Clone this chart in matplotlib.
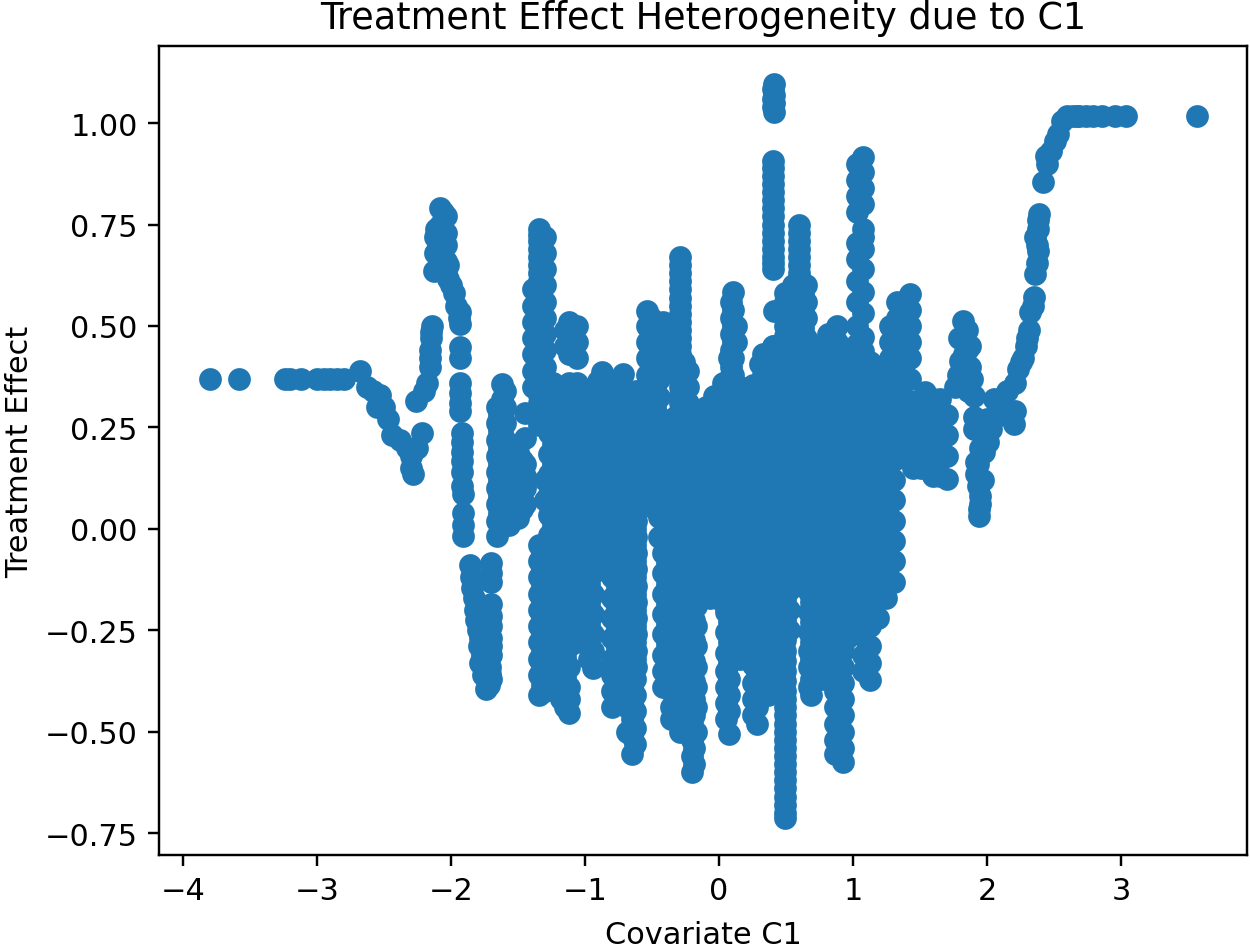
import matplotlib
matplotlib.use("Agg")
import matplotlib.pyplot as plt

# tails and thin curves, read as single points
left_x = [-3.8, -3.58, -3.24, -3.2, -3.12, -3.0, -2.95, -2.9, -2.85, -2.8, -2.68,
          -2.63, -2.58, -2.53, -2.55, -2.5, -2.47, -2.44, -2.38, -2.33, -2.3, -2.3, -2.28, -2.22, -2.25,
          -2.26, -2.2, -2.18, -2.16, -2.16, -2.15, -2.14, -2.15, -2.16]
left_y = [0.37, 0.37, 0.37, 0.37, 0.37, 0.37, 0.37, 0.37, 0.37, 0.37, 0.39,
          0.35, 0.34, 0.33, 0.30, 0.30, 0.27, 0.23, 0.22, 0.20, 0.18, 0.15, 0.135, 0.235, 0.20,
          0.315, 0.34, 0.36, 0.40, 0.44, 0.47, 0.50, 0.485, 0.42]

peak_x = [-2.13, -2.12, -2.12, -2.11, -2.08, -2.08, -2.08, -2.08, -2.08, -2.04, -2.04, -2.04, -2.04, -2.04,
          -2.02, -2.0, -1.98, -1.96, -1.94,
          -1.93, -1.93, -1.93, -1.93, -1.93, -1.93, -1.92, -1.92, -1.92, -1.92, -1.92, -1.91, -1.91, -1.91,
          -2.1, -2.06, -2.06, -2.02, -1.93, -1.93, -1.92, -1.91]
peak_y = [0.635, 0.68, 0.72, 0.74, 0.79, 0.75, 0.72, 0.68, 0.65, 0.77, 0.73, 0.70, 0.66, 0.63,
          0.615, 0.60, 0.58, 0.55, 0.52,
          0.506, 0.448, 0.42, 0.36, 0.335, 0.29, 0.237, 0.215, 0.167, 0.14, 0.106, 0.04, 0.01, -0.017,
          0.70, 0.78, 0.70, 0.65, 0.535, 0.31, 0.19, 0.085]

drop_x = [-1.86, -1.85, -1.83, -1.82, -1.8, -1.79, -1.78, -1.76, -1.74, -1.72, -1.7,
          -1.7, -1.7, -1.7, -1.7, -1.7, -1.7, -1.7, -1.71, -1.71, -1.71, -1.72,
          -1.84, -1.81, -1.785, -1.77, -1.75, -1.73, -1.73, -1.7, -1.7]
drop_y = [-0.09, -0.12, -0.17, -0.2, -0.25, -0.29, -0.33, -0.36, -0.395, -0.385, -0.37,
          -0.085, -0.11, -0.13, -0.185, -0.24, -0.27, -0.31, -0.34, -0.357, -0.37, -0.19,
          -0.145, -0.225, -0.27, -0.31, -0.345, -0.30, -0.34, -0.215, -0.29]

right_x = [1.82, 1.85, 1.79, 1.87, 1.8, 1.85, 1.76, 1.9, 1.9, 1.9, 1.96, 2.05, 2.0, 2.1, 2.15, 2.21, 2.21, 2.2, 2.1,
           2.01, 1.98, 1.92, 1.92, 1.95, 1.94, 1.97, 1.94,
           2.23, 2.27, 2.29, 2.31, 2.32, 2.35, 2.36, 2.38, 2.37, 2.38, 2.39,
           2.42, 2.45, 2.44, 2.48, 2.51, 2.53, 2.56, 2.64, 2.69, 2.74, 2.79, 2.86, 2.955, 3.04, 3.57,
           1.83, 1.84, 1.86, 1.78, 1.82, 1.85, 1.87, 1.89, 1.93, 1.93, 1.95, 2.03, 2.25, 2.3, 2.34, 2.37, 2.36, 2.38, 2.6, 2.67, 1.95]
right_y = [0.512, 0.49, 0.47, 0.45, 0.414, 0.39, 0.35, 0.328, 0.276, 0.246, 0.25, 0.32, 0.27, 0.30, 0.34, 0.36, 0.29, 0.258, 0.28,
           0.214, 0.19, 0.165, 0.135, 0.08, 0.032, 0.12, 0.05,
           0.394, 0.42, 0.45, 0.49, 0.534, 0.571, 0.628, 0.685, 0.70, 0.74, 0.776,
           0.855, 0.90, 0.918, 0.93, 0.955, 0.973, 1.005, 1.017, 1.017, 1.017, 1.017, 1.017, 1.017, 1.017, 1.017,
           0.43, 0.36, 0.34, 0.38, 0.36, 0.44, 0.40, 0.37, 0.105, 0.16, 0.06, 0.245, 0.41, 0.47, 0.55, 0.655, 0.72, 0.76, 1.017, 1.017, 0.20]

# vertical streaks: one x per column, then the y values seen in it
col_x = [-1.66, -1.62, -1.57, -1.5, -1.45,
         -1.39, -1.34, -1.3, -1.24, -1.18, -1.12, -1.06, -1.0, -0.94, -0.87, -0.8, -0.72, -0.65, -0.62,
         -0.54, -0.48, -0.42, -0.36, -0.29, -0.26, -0.2, -0.17, -0.1, -0.04, 0.03, 0.075, 0.105, 0.16, 0.22, 0.28,
         0.33, 0.4, 0.41, 0.49, 0.55, 0.6, 0.65, 0.686, 0.77, 0.85, 0.88, 0.925, 0.98,
         1.075, 1.127, 1.19, 1.245, 1.306, 1.36, 1.425, 1.47, 1.54, 1.6, 1.65, 1.7]
col_y = [
    [0.30, 0.26, 0.22, 0.18, 0.14, 0.10, 0.06, 0.02, -0.017],
    [0.357, 0.32, 0.28, 0.24, 0.20, 0.16, 0.12, 0.08, 0.04, 0.005],
    [0.19, 0.15, 0.11, 0.07, 0.03, 0.01],
    [0.19, 0.15, 0.11, 0.07, 0.027],
    [0.285, 0.224, 0.16, 0.13, 0.10, 0.06],
    [0.59, 0.55, 0.51, 0.47, 0.43, 0.39, 0.35],
    [0.74, 0.71, 0.67, 0.63, 0.59, 0.55, 0.51, 0.47, 0.43, 0.39, 0.35, 0.31, 0.256,
     -0.04, -0.08, -0.12, -0.16, -0.20, -0.24, -0.28, -0.32, -0.36, -0.41],
    [0.72, 0.68, 0.64, 0.60, 0.56, 0.52, 0.48, 0.44, 0.40, 0.36, 0.32, 0.30, 0.12, 0.07,
     -0.05, -0.09, -0.13, -0.17, -0.21, -0.25, -0.29, -0.33, -0.37, -0.40],
    [0.36, 0.31, 0.26, 0.21, 0.16, 0.11, 0.06, 0.01, -0.04, -0.09, -0.14, -0.19, -0.24, -0.29, -0.34, -0.38],
    [0.33, 0.28, 0.23, 0.18, 0.13, 0.08, 0.03, -0.02, -0.07, -0.12, -0.17, -0.22, -0.27, -0.32, -0.37, -0.42],
    [0.51, 0.47, 0.43, 0.36, 0.31, 0.26, 0.21, 0.16, 0.11, 0.06, 0.01, -0.04, -0.09, -0.14, -0.19, -0.24, -0.29, -0.34, -0.39, -0.42, -0.455],
    [0.50, 0.46, 0.42, 0.36, 0.30, 0.25, 0.20, 0.15, 0.10, 0.05, 0.0, -0.05, -0.10, -0.15, -0.20, -0.25, -0.28],
    [0.26, 0.21, 0.16, 0.11, 0.06, 0.01, -0.04, -0.09, -0.14, -0.19, -0.24, -0.26],
    [0.34, 0.29, 0.24, 0.19, 0.14, 0.09, 0.04, -0.01, -0.06, -0.11, -0.16, -0.21, -0.26, -0.30, -0.342],
    [0.387, 0.34, 0.29, 0.24, 0.19, 0.14, 0.09, 0.04, -0.01, -0.06, -0.10],
    [0.33, 0.28, 0.23, 0.18, 0.13, 0.08, 0.03, -0.02, -0.07, -0.12, -0.17, -0.22, -0.27, -0.32, -0.36, -0.40, -0.44],
    [0.382, 0.33, 0.28, 0.23, 0.18, 0.13, 0.08, 0.03, -0.02, -0.07, -0.12, -0.17, -0.22, -0.27, -0.32, -0.36, -0.40],
    [0.30, 0.25, 0.20, 0.15, 0.10, 0.05, 0.0, -0.05, -0.10, -0.15, -0.20, -0.25, -0.30, -0.35, -0.39, -0.43, -0.47, -0.51, -0.554],
    [0.34, 0.29, 0.24, 0.19, 0.14, 0.10, 0.06, 0.02, -0.02, -0.06, -0.10, -0.14, -0.18, -0.22, -0.26, -0.30, -0.34],
    [0.537, 0.50, 0.46, 0.42, 0.38, 0.34, 0.29, 0.24, 0.19, 0.14, 0.09],
    [0.51, 0.47, 0.43, 0.39, 0.35, 0.30, 0.25, 0.20, 0.15, 0.10, 0.05],
    [0.51, 0.47, 0.43, 0.39, 0.24, 0.19, 0.14, 0.09, 0.04, -0.01, -0.06, -0.11, -0.16, -0.21, -0.26, -0.31, -0.35, -0.39],
    [0.20, 0.15, 0.10, 0.05, 0.0, -0.05, -0.10, -0.15, -0.20, -0.25, -0.30, -0.35, -0.40, -0.44, -0.468],
    [0.67, 0.63, 0.59, 0.55, 0.51, 0.47, 0.43, 0.39, 0.35, 0.31, 0.27, 0.22, 0.17, 0.12, 0.07, 0.02, -0.03,
     -0.07, -0.12, -0.17, -0.22, -0.27, -0.32, -0.37, -0.42, -0.46, -0.50],
    [0.41, 0.37, 0.33, 0.29, 0.25, 0.20, 0.15, 0.10, 0.05, 0.0],
    [0.21, 0.16, 0.11, 0.06, 0.01, -0.05, -0.10, -0.15, -0.20, -0.25, -0.30, -0.35, -0.40, -0.44, -0.48, -0.52, -0.56, -0.60],
    [0.21, 0.16, 0.11, 0.06, 0.01, -0.04, -0.09, -0.14, -0.19, -0.24, -0.29, -0.34, -0.39, -0.44, -0.50],
    [0.30, 0.25, 0.20, 0.15, 0.10, 0.05, 0.0, -0.05, -0.10, -0.15],
    [0.327, 0.28, 0.23, 0.18, 0.13, 0.08, 0.03, -0.02, -0.07, -0.12, -0.16],
    [0.36, 0.31, 0.26, 0.21, 0.16, 0.11, 0.06, 0.01, -0.04, -0.09, -0.14, -0.18],
    [0.42, 0.37, 0.32, 0.27, 0.22, 0.17, 0.12, 0.07, 0.02, -0.03, -0.08, -0.13, -0.18, -0.23, -0.28, -0.33, -0.37, -0.41, -0.45, -0.505],
    [0.583, 0.54, 0.50, 0.46, 0.42, 0.38, 0.34, 0.29, 0.24, 0.19, 0.14, 0.09],
    [0.35, 0.30, 0.25, 0.20, 0.15, 0.10, 0.05, 0.0, -0.05, -0.10, -0.15, -0.20, -0.25, -0.32],
    [0.29, 0.24, 0.19, 0.14, 0.09, 0.04, -0.01, -0.06, -0.11, -0.16, -0.21, -0.26, -0.31],
    [0.29, 0.24, 0.19, 0.14, 0.09, 0.04, -0.01, -0.06, -0.11, -0.16, -0.21, -0.26, -0.31, -0.36, -0.40, -0.44, -0.48],
    [0.43, 0.38, 0.33, 0.28, 0.23, 0.18, 0.13, 0.08, 0.03, -0.02, -0.07, -0.12, -0.17, -0.22, -0.27, -0.32, -0.36, -0.41],
    [0.906, 0.87, 0.83, 0.79, 0.75, 0.71, 0.67, 0.64, 0.45, 0.40, 0.35, 0.30, 0.25, 0.20, 0.15],
    [1.096, 1.07, 1.05, 1.027, 0.537, 0.45, 0.10, 0.05, 0.0, -0.05, -0.10, -0.15, -0.20, -0.25, -0.30, -0.35, -0.40],
    [0.58, 0.54, 0.50, 0.45, 0.40, 0.35, 0.30, 0.25, 0.20, 0.15, 0.10, 0.05, 0.0, -0.05, -0.10, -0.15, -0.20, -0.25,
     -0.30, -0.35, -0.40, -0.44, -0.48, -0.52, -0.56, -0.60, -0.64, -0.68, -0.714],
    [0.60, 0.56, 0.52, 0.48, 0.43, 0.38, 0.33, 0.28, 0.23, 0.18, 0.13, 0.08, 0.03, -0.02, -0.07, -0.11],
    [0.75, 0.71, 0.67, 0.63, 0.59, 0.55, 0.50, 0.45, 0.40, 0.35, 0.30, 0.25, 0.20, 0.15, 0.10, 0.05, 0.0, -0.05, -0.09],
    [0.60, 0.56, 0.52, 0.47, 0.42, 0.37, 0.32, 0.27, 0.22, 0.17, 0.12, 0.07, 0.02, -0.03, -0.08, -0.12],
    [0.42, 0.37, 0.32, 0.27, 0.22, 0.17, 0.12, 0.07, 0.02, -0.03, -0.08, -0.13, -0.18, -0.23, -0.28, -0.32, -0.37, -0.41],
    [0.45, 0.40, 0.35, 0.30, 0.25, 0.20, 0.15, 0.10, 0.05, 0.0, -0.05, -0.10, -0.15, -0.20, -0.25, -0.30, -0.34, -0.37],
    [0.41, 0.36, 0.31, 0.26, 0.21, 0.16, 0.11, 0.06, 0.01, -0.04, -0.09, -0.14, -0.19, -0.24, -0.28],
    [0.50, 0.46, 0.42, 0.37, 0.32, 0.27, 0.22, 0.17, 0.12, 0.07],
    [0.40, 0.35, 0.30, 0.25, 0.20, 0.15, 0.10, 0.05, 0.0, -0.05, -0.10, -0.15, -0.20, -0.25, -0.30, -0.34, -0.38, -0.42, -0.46, -0.50, -0.54, -0.575],
    [0.44, 0.39, 0.34, 0.29, 0.24, 0.19, 0.14, 0.09, 0.04, -0.01, -0.06, -0.11, -0.16, -0.21, -0.26],
    [0.916, 0.88, 0.84, 0.80, 0.74, 0.72, 0.69, 0.64, 0.583, 0.532, 0.473, 0.438, 0.39, 0.34, 0.29, 0.24, 0.19, 0.14, 0.09, 0.04, -0.01, -0.06, -0.11, -0.16, -0.21, -0.26],
    [0.41, 0.36, 0.31, 0.26, 0.21, 0.16, 0.11, 0.06, 0.01, -0.04, -0.09, -0.14, -0.19, -0.24, -0.29, -0.33, -0.372],
    [0.28, 0.23, 0.18, 0.13, 0.08, 0.03, -0.02, -0.07, -0.12, -0.17, -0.22],
    [0.37, 0.32, 0.27, 0.22, 0.17, 0.12, 0.07, 0.02, -0.03, -0.08, -0.13, -0.17],
    [0.42, 0.37, 0.33, 0.27, 0.22, 0.17, 0.12, 0.07, 0.02, -0.03, -0.08, -0.13],
    [0.52, 0.48, 0.44, 0.40, 0.36, 0.33],
    [0.579, 0.54, 0.50, 0.46, 0.42, 0.37, 0.30, 0.26, 0.22, 0.18],
    [0.31, 0.27, 0.23, 0.19, 0.172],
    [0.337, 0.29, 0.24, 0.19, 0.15],
    [0.32, 0.27, 0.22, 0.17, 0.13],
    [0.32, 0.27, 0.22, 0.17, 0.13],
    [0.28, 0.23, 0.18, 0.123],
]

# points lying between the columns above, where the streaks merge
fill_x = [-1.64, -1.6, -1.54, -1.47, -1.345, -1.32, -1.27, -1.21, -1.15, -1.09, -1.03, -0.97, -0.905, -0.835, -0.76, -0.685, -0.63,
          -0.51, -0.45, -0.39, -0.33, -0.29, -0.23, -0.185, -0.135, -0.07, -0.005, 0.055, 0.09, 0.13, 0.19, 0.25, 0.305, 0.365,
          0.405, 0.44, 0.49, 0.52, 0.575, 0.6, 0.625, 0.67, 0.73, 0.81, 0.865, 0.925, 0.955, 1.03, 1.075, 1.1, 1.16, 1.22, 1.275, 1.33, 1.39, 1.425, 1.45, 1.51, 1.57, 1.625, 1.68]
fill_y = [
    [0.28, 0.24, 0.20, 0.16, 0.12, 0.08, 0.04],
    [0.34, 0.30, 0.26, 0.22, 0.18, 0.14, 0.10, 0.06, 0.02],
    [0.17, 0.13, 0.09, 0.05],
    [0.17, 0.13, 0.09, 0.05],
    [0.725, 0.69, 0.65, 0.61, 0.57, 0.53, 0.49, 0.45, 0.41, 0.37, 0.33],
    [-0.06, -0.10, -0.14, -0.18, -0.22, -0.26, -0.30, -0.34, -0.385],
    [0.335, 0.285, 0.235, 0.185, 0.135, 0.085, 0.035, -0.015, -0.065, -0.115, -0.165, -0.215, -0.265, -0.315, -0.36],
    [0.305, 0.255, 0.205, 0.155, 0.105, 0.055, 0.005, -0.045, -0.095, -0.145, -0.195, -0.245, -0.295, -0.345, -0.40],
    [0.49, 0.45, 0.335, 0.285, 0.235, 0.185, 0.135, 0.085, 0.035, -0.015, -0.065, -0.115, -0.165, -0.215, -0.265, -0.315, -0.365, -0.41, -0.44],
    [0.48, 0.44, 0.33, 0.275, 0.225, 0.175, 0.125, 0.075, 0.025, -0.025, -0.075, -0.125, -0.175, -0.225, -0.265],
    [0.285, 0.235, 0.185, 0.135, 0.085, 0.035, -0.015, -0.065, -0.115, -0.165, -0.215, -0.25],
    [0.315, 0.265, 0.215, 0.165, 0.115, 0.065, 0.015, -0.035, -0.085, -0.135, -0.185, -0.235, -0.285, -0.32],
    [0.365, 0.315, 0.265, 0.215, 0.165, 0.115, 0.065, 0.015, -0.035, -0.08],
    [0.355, 0.305, 0.255, 0.205, 0.155, 0.105, 0.055, 0.005, -0.045, -0.09],
    [0.355, 0.305, 0.255, 0.205, 0.155, 0.105, 0.055, 0.005, -0.045, -0.145, -0.195, -0.245, -0.295, -0.34, -0.38, -0.42],
    [0.275, 0.225, 0.175, 0.125, 0.075, 0.025, -0.025, -0.06, -0.14, -0.19, -0.24, -0.29, -0.34, -0.38, -0.44, -0.50],
    [0.315, 0.265, 0.215, 0.165, 0.115, 0.075, 0.04, 0.0, -0.04, -0.08, -0.12, -0.16, -0.20, -0.24, -0.28, -0.32, -0.37, -0.41, -0.45, -0.49, -0.53],
    [0.52, 0.48, 0.44, 0.40, 0.36, 0.315, 0.265, 0.215, 0.165, 0.115],
    [0.49, 0.45, 0.41, 0.37, 0.325, 0.275, 0.225, 0.175, 0.125, 0.075, 0.03, -0.02],
    [0.49, 0.45, 0.41, 0.215, 0.165, 0.115, 0.065, 0.015, -0.035, -0.085, -0.135, -0.185, -0.235, -0.285, -0.33, -0.37],
    [0.275, 0.225, 0.175, 0.125, 0.075, 0.025, -0.025, -0.075, -0.125, -0.175, -0.225, -0.275, -0.325, -0.375, -0.42, -0.45],
    [0.65, 0.61, 0.57, 0.53, 0.49, 0.45, 0.41, 0.37, 0.33, 0.29, 0.245, 0.195, 0.145, 0.095, 0.045, -0.005, -0.05, -0.095, -0.145, -0.195, -0.245, -0.295, -0.345, -0.395, -0.44, -0.48],
    [0.39, 0.35, 0.31, 0.27, 0.225, 0.175, 0.125, 0.075, 0.025],
    [0.235, 0.185, 0.135, 0.085, -0.075, -0.125, -0.175, -0.225, -0.275, -0.325, -0.375, -0.42, -0.46, -0.50, -0.54, -0.58],
    [0.255, 0.205, 0.155, 0.105, 0.055, 0.005, -0.045, -0.095, -0.145],
    [0.275, 0.225, 0.175, 0.125, 0.075, 0.025, -0.025, -0.075, -0.125, -0.17],
    [0.305, 0.255, 0.205, 0.155, 0.105, 0.055, 0.005, -0.045, -0.095, -0.14],
    [0.345, 0.295, 0.245, 0.195, 0.145, 0.095, 0.045, -0.005, -0.055, -0.105, -0.155, -0.205, -0.255, -0.305, -0.35, -0.39, -0.43, -0.47],
    [0.56, 0.52, 0.48, 0.44, 0.40, 0.36, 0.315, 0.265, 0.215, 0.165, 0.115, 0.065, 0.015, -0.035, -0.085, -0.135, -0.185, -0.235, -0.28, -0.32],
    [0.50, 0.46, 0.33, 0.275, 0.225, 0.175, 0.125, 0.075, 0.025, -0.025, -0.075, -0.125, -0.175, -0.225, -0.28, -0.31],
    [0.315, 0.265, 0.215, 0.165, 0.115, 0.065, 0.015, -0.035, -0.085, -0.135, -0.185, -0.235, -0.285, -0.31],
    [0.355, 0.315, 0.265, 0.215, 0.165, 0.115, 0.065, 0.015, -0.035, -0.085, -0.135, -0.185, -0.235, -0.285, -0.335, -0.38, -0.42, -0.46],
    [0.405, 0.355, 0.305, 0.255, 0.205, 0.155, 0.105, 0.055, 0.005, -0.045, -0.095, -0.145, -0.195, -0.245, -0.295, -0.34, -0.385],
    [0.415, 0.365, 0.315, 0.265, 0.215, 0.165, 0.125, 0.075, 0.025, -0.025, -0.075, -0.125, -0.175, -0.225, -0.275, -0.325, -0.375, -0.41],
    [0.89, 0.85, 0.81, 0.77, 0.73, 0.69, 0.655, 1.085, 1.06, 1.04],
    [0.425, 0.375, 0.325, 0.275, 0.225, 0.175, 0.09, 0.04, -0.01, -0.06, -0.11, -0.16, -0.21, -0.26, -0.31, -0.36],
    [0.56, 0.52, 0.475, 0.425, 0.375, 0.325, 0.275, 0.225, 0.175, 0.125, 0.075, 0.025, -0.025, -0.075, -0.125, -0.175, -0.225, -0.275, -0.325, -0.375, -0.42, -0.46, -0.50, -0.54, -0.58, -0.62, -0.66, -0.70],
    [0.58, 0.54, 0.50, 0.455, 0.405, 0.355, 0.305, 0.255, 0.205, 0.155, 0.105, 0.055, 0.005, -0.045, -0.09, -0.15, -0.20, -0.25],
    [0.59, 0.545, 0.50, 0.455, 0.405, 0.355, 0.305, 0.255, 0.205, 0.155, 0.105, 0.055, 0.005, -0.04],
    [0.73, 0.69, 0.65, 0.61, 0.57, 0.525, 0.475, 0.425, 0.375, 0.325, 0.275, 0.225, 0.175, 0.125, 0.075, 0.025, -0.025, -0.07],
    [0.58, 0.54, 0.495, 0.445, 0.395, 0.345, 0.295, 0.245, 0.195, 0.145, 0.095, 0.045, -0.005, -0.055, -0.10],
    [0.395, 0.345, 0.295, 0.245, 0.195, 0.145, 0.095, 0.045, -0.005, -0.055, -0.105, -0.155, -0.205, -0.255, -0.30, -0.34, -0.39],
    [0.425, 0.375, 0.325, 0.275, 0.225, 0.175, 0.125, 0.075, 0.025, -0.025, -0.075, -0.125, -0.175, -0.225, -0.275, -0.32, -0.355],
    [0.48, 0.44, 0.395, 0.345, 0.295, 0.245, 0.195, 0.145, 0.095, 0.045, -0.005, -0.055, -0.105, -0.155, -0.205, -0.25],
    [0.43, 0.385, 0.335, 0.285, 0.235, 0.185, 0.135, 0.085, 0.035, -0.015, -0.065, -0.115, -0.165, -0.215, -0.265, -0.32, -0.36, -0.40, -0.44, -0.48, -0.52, -0.555],
    [0.415, 0.365, 0.315, 0.265, 0.215, 0.165, 0.115, 0.065, 0.015, -0.035, -0.085, -0.135, -0.185, -0.235],
    [0.42, 0.365, 0.315, 0.265, 0.215, 0.165, 0.115, 0.065, 0.015, -0.035, -0.085, -0.135, -0.185, -0.235, -0.27],
    [0.90, 0.86, 0.82, 0.78, 0.705, 0.665, 0.61, 0.56, 0.50, 0.455, 0.415, 0.365, 0.315, 0.265, 0.215, 0.165, 0.115, 0.065, 0.015, -0.035, -0.085, -0.135, -0.185, -0.235],
    [0.385, 0.335, 0.285, 0.235, 0.185, 0.135, 0.085, 0.035, -0.015, -0.065, -0.115, -0.165, -0.215, -0.265, -0.31, -0.35],
    [0.255, 0.205, 0.155, 0.105, 0.055, 0.005, -0.045, -0.095, -0.145, -0.195],
    [0.345, 0.295, 0.245, 0.195, 0.145, 0.095, 0.045, -0.005, -0.055, -0.105, -0.15],
    [0.395, 0.345, 0.245, 0.195, 0.145, 0.095, 0.045, -0.005, -0.055, -0.105],
    [0.50, 0.46, 0.42, 0.38, 0.345],
    [0.56, 0.52, 0.48, 0.44, 0.395, 0.35, 0.28, 0.24, 0.20],
    [0.29, 0.25, 0.21, 0.18],
    [0.315, 0.265, 0.215, 0.17],
    [0.295, 0.245, 0.195, 0.15],
    [0.295, 0.245, 0.195, 0.15],
    [0.295, 0.245, 0.195, 0.15],
]

xs = left_x + peak_x + drop_x + right_x
ys = left_y + peak_y + drop_y + right_y
for x, col in zip(col_x + fill_x, col_y + fill_y):
    xs += [x] * len(col)
    ys += col

fig = plt.figure(figsize=(1250 / 219, 949 / 219), dpi=219)
ax = fig.add_axes([159 / 1250, 93 / 949, 1088 / 1250, 809 / 949])
ax.scatter(xs, ys, s=42)

ax.set_xlim(-4.179, 3.94)
ax.set_ylim(-0.804, 1.19)
ax.set_yticks([-0.75, -0.5, -0.25, 0.0, 0.25, 0.5, 0.75, 1.0])

ax.set_title("Treatment Effect Heterogeneity due to C1")
ax.set_xlabel("Covariate C1", labelpad=5)
ax.set_ylabel("Treatment Effect", labelpad=3.5)

fig.savefig("out.png", dpi=219)
